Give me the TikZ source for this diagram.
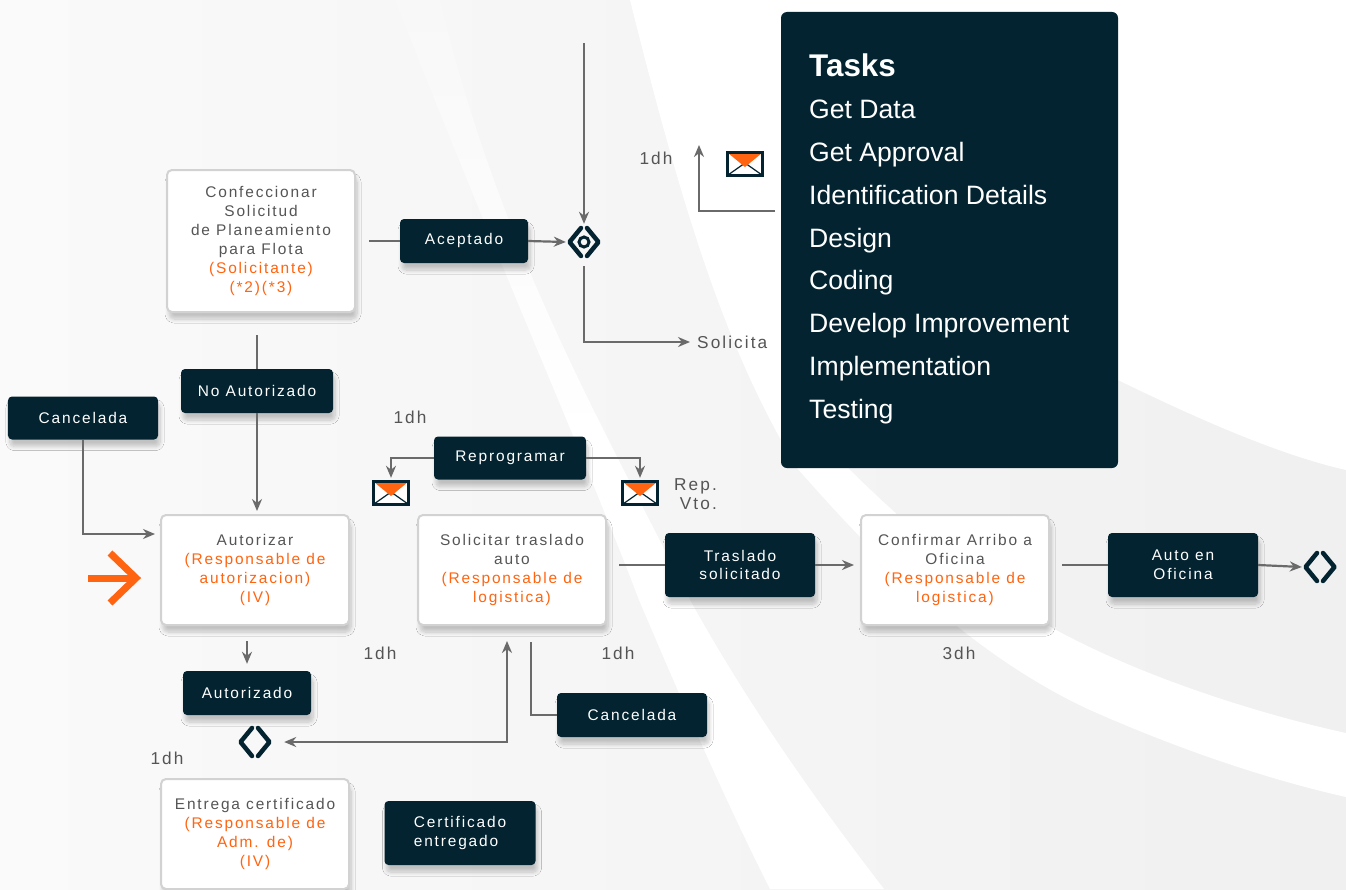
\documentclass[tikz,border=0pt]{standalone}
\usepackage{fontspec}
\setmainfont{Liberation Sans}
\newfontfamily\diagfont[LetterSpace=12]{Liberation Sans}
\usetikzlibrary{arrows.meta,shadows.blur}

\definecolor{navy}{HTML}{02232F}
\definecolor{orangeT}{HTML}{FF6410}
\definecolor{greyT}{HTML}{555555}
\definecolor{lineG}{HTML}{6A6A6A}
\definecolor{boxEdge}{HTML}{D2D2D2}
\definecolor{bgL}{HTML}{FAFAFA}
\definecolor{bgR}{HTML}{F0F0F0}
\definecolor{bgTop}{HTML}{F8F8F8}

\newcommand\diagtext{\diagfont\fontsize{15.5}{19}\selectfont}
\newcommand\labeltext{\diagfont\fontsize{17.3}{19}\selectfont}
\newcommand\resp[1]{\textcolor{orangeT}{#1}}

\tikzset{
  >={Stealth[length=12bp,width=10bp]},
  flow/.style={draw=lineG, line width=2.2bp},
  flowto/.style={flow, ->},
  softshadow/.style={blur shadow={shadow xshift=2bp, shadow yshift=-7bp,
    shadow blur radius=4bp, shadow opacity=22, shadow blur steps=8}},
  darkbox/.style={fill=navy, rounded corners=4bp, text=white, font=\diagtext,
    align=center, inner sep=0, minimum width=150bp, minimum height=44bp, softshadow},
  procbox/.style={fill=white, draw=boxEdge, line width=2bp, rounded corners=5bp,
    minimum width=188bp, minimum height=110bp, text=greyT, font=\diagtext,
    align=center, inner sep=0, softshadow},
  dhlabel/.style={text=greyT, font=\labeltext, inner sep=0},
  gateway/.style={minimum size=36bp, inner sep=0},
  mailbox/.style={minimum width=38bp, minimum height=26bp, inner sep=0},
  taskbox/.style={fill=navy, rounded corners=6bp, minimum width=337bp,
    minimum height=456bp, inner sep=0},
  taskitem/.style={text=white, anchor=base west, inner sep=0,
    font=\fontsize{26.7}{30}\selectfont},
  startmark/.style={draw=orangeT, line width=7bp},
  pics/gwicon/.style={code={
    \draw[navy, line width=4.5bp, line cap=round, line join=round]
      (-3,-14) -- (-14.5,0) -- (-3,14) (3,-14) -- (14.5,0) -- (3,14);}},
  pics/gwring/.style={code={
    \draw[navy, line width=3bp] (0,0) circle (5bp);}},
  pics/mailicon/.style={code={
    \fill[white] (-18,-12) rectangle (18,12);
    \draw[navy, line width=1.2bp] (-17,11) -- (0,-1) -- (17,11);
    \fill[orangeT] (-17,-11) -- (17,-11) -- (0,3) -- cycle;
    \draw[navy, line width=3bp] (-17.5,-11.5) rectangle (17.5,11.5);}}
}

\begin{document}
\begin{tikzpicture}[x=1bp, y=-1bp]
  \useasboundingbox (0,0) rectangle (1346,889);
  % background arcs
  \fill[left color=bgL, right color=bgR] (0,0) rectangle (1346,889);
  \fill[white] (630,0) .. controls (680,200) and (720,330) .. (781,440)
    -- (1118,380) .. controls (1200,420) and (1280,455) .. (1346,470) -- (1346,0) -- cycle;
  \shade[top color=bgTop, bottom color=white, middle color=white]
    (395,0) .. controls (505,280) and (582,450) .. (639,600)
    .. controls (690,720) and (730,810) .. (770,889) -- (884,889)
    .. controls (800,780) and (740,690) .. (690,600)
    .. controls (600,420) and (500,250) .. (440,0) -- cycle;
  \fill[white] (790,460) .. controls (860,540) and (960,650) .. (1090,710)
    .. controls (1180,750) and (1270,780) .. (1346,797) -- (1346,733)
    .. controls (1250,712) and (1120,670) .. (1030,615)
    .. controls (950,565) and (890,510) .. (840,460) -- cycle;

  % tasks panel
  \node[taskbox] (tasks) at (949.5,240) {};
  \node[taskitem, font=\fontsize{31.5}{36}\selectfont\bfseries] (taskT) at (809,76) {Tasks};
  \foreach \tname [count=\i] in {Get Data, Get Approval, Identification Details, Design,
      Coding, Develop Improvement, Implementation, Testing}
    \node[taskitem] (task\i) at (809,{76+42.75*\i}) {\tname};

  % top row
  \node[procbox, minimum height=142bp] (conf) at (261,241)
    {Confeccionar\\Solicitud\\de Planeamiento\\para Flota\\\resp{(Solicitante)}\\\resp{(*2)(*3)}};
  \node[darkbox, minimum width=128bp] (acep) at (464,241) {Aceptado};
  \node[gateway] (gwA) at (584,242) {};
  \pic at (gwA) {gwicon};
  \pic at (gwA) {gwring};
  \coordinate (topin) at (584,43);
  \node[dhlabel, anchor=west] (solicita) at (697,342) {Solicita};
  \node[dhlabel] (dhA) at (656,158) {1dh};
  \node[mailbox] (mailA) at (745,164) {};
  \pic at (mailA) {mailicon};
  \coordinate (taskout) at (775,211);
  \coordinate (upend) at (699,145);

  % middle row
  \node[darkbox, minimum width=152bp] (noaut) at (257,391) {No Autorizado};
  \node[darkbox, minimum height=43bp] (cancA) at (83,418) {Cancelada};
  \node[procbox] (aut) at (255,570)
    {Autorizar\\\resp{(Responsable de}\\\resp{autorizacion)}\\\resp{(IV)}};
  \draw[startmark] (88,578) -- (135,578);
  \draw[startmark, miter limit=10] (110,553) -- (136,578) -- (110,603);
  \node[dhlabel] (dhB) at (410,417) {1dh};
  \node[darkbox, minimum width=152bp, minimum height=43bp] (repro) at (510,458) {Reprogramar};
  \node[mailbox] (mailL) at (391,493) {};
  \pic at (mailL) {mailicon};
  \node[mailbox] (mailR) at (640,493) {};
  \pic at (mailR) {mailicon};
  \node[dhlabel, align=right, anchor=east] (repvto) at (717,494) {Rep.\\Vto.};
  \node[procbox] (sol) at (512,570)
    {Solicitar traslado\\auto\\\resp{(Responsable de}\\\resp{logistica)}};
  \node[darkbox, minimum height=64bp] (trasl) at (740,565) {Traslado\\solicitado};
  \node[procbox] (conf2) at (955,570)
    {Confirmar Arribo a\\Oficina\\\resp{(Responsable de}\\\resp{logistica)}};
  \node[darkbox, minimum height=64bp] (auto) at (1183,565) {Auto en\\Oficina};
  \node[gateway] (gwEnd) at (1320,567) {};
  \pic at (gwEnd) {gwicon};

  % lower row
  \node[dhlabel] (dhC) at (380,653) {1dh};
  \node[dhlabel] (dhD) at (618,653) {1dh};
  \node[dhlabel] (dhE) at (959,653) {3dh};
  \node[dhlabel] (dhF) at (167,758) {1dh};
  \node[darkbox, minimum width=128bp] (autz) at (247,693) {Autorizado};
  \node[gateway] (gwB) at (255,742) {};
  \pic at (gwB) {gwicon};
  \node[darkbox] (cancB) at (632,715) {Cancelada};
  \node[procbox] (entrega) at (255,834)
    {Entrega certificado\\\resp{(Responsable de}\\\resp{Adm. de)}\\\resp{(IV)}};
  \node[darkbox, minimum width=151bp, minimum height=64bp, align=left] (cert) at (460,833)
    {Certificado\\entregado};

  % connectors
  \draw[flow] ([xshift=13bp]conf.east) -- (acep.west);
  \draw[flowto] (acep.east) -- (gwA.west);
  \draw[flowto] (topin) -- (gwA.north);
  \draw[flowto] ([yshift=-6bp]gwA.south) |- ([xshift=-7bp]solicita.west);
  \draw[flowto] (taskout) -| (upend);
  \draw[flow] ([yshift=-22bp]conf.south -| noaut) -- (noaut.north);
  \draw[flowto] (noaut.south) -- ([yshift=3bp]noaut.south |- aut.north);
  \draw[flowto, shorten >=5bp] (cancA.south) |- ([yshift=36bp]aut.west);
  \draw[flowto, shorten >=2bp] (repro.west) -| (mailL.north);
  \draw[flowto, shorten >=2bp] (repro.east) -| (mailR.north);
  \draw[flow] ([xshift=12bp]sol.east |- trasl) -- (trasl.west);
  \draw[flowto] (trasl.east) -- ([xshift=-6bp]conf2.west |- trasl);
  \draw[flow] ([xshift=12bp]conf2.east |- auto) -- (auto.west);
  \draw[flowto] (auto.east) -- (gwEnd.west);
  \draw[flowto] ([yshift=-15bp]aut.south -| autz) -- ([yshift=7bp]autz.north);
  \draw[flow, <->, shorten <=11bp, shorten >=15bp] (gwB.east) -| ([xshift=-5bp]sol.south);
  \draw[flow] ([xshift=19bp,yshift=-16bp]sol.south) |- (cancB.west);
\end{tikzpicture}
\end{document}
